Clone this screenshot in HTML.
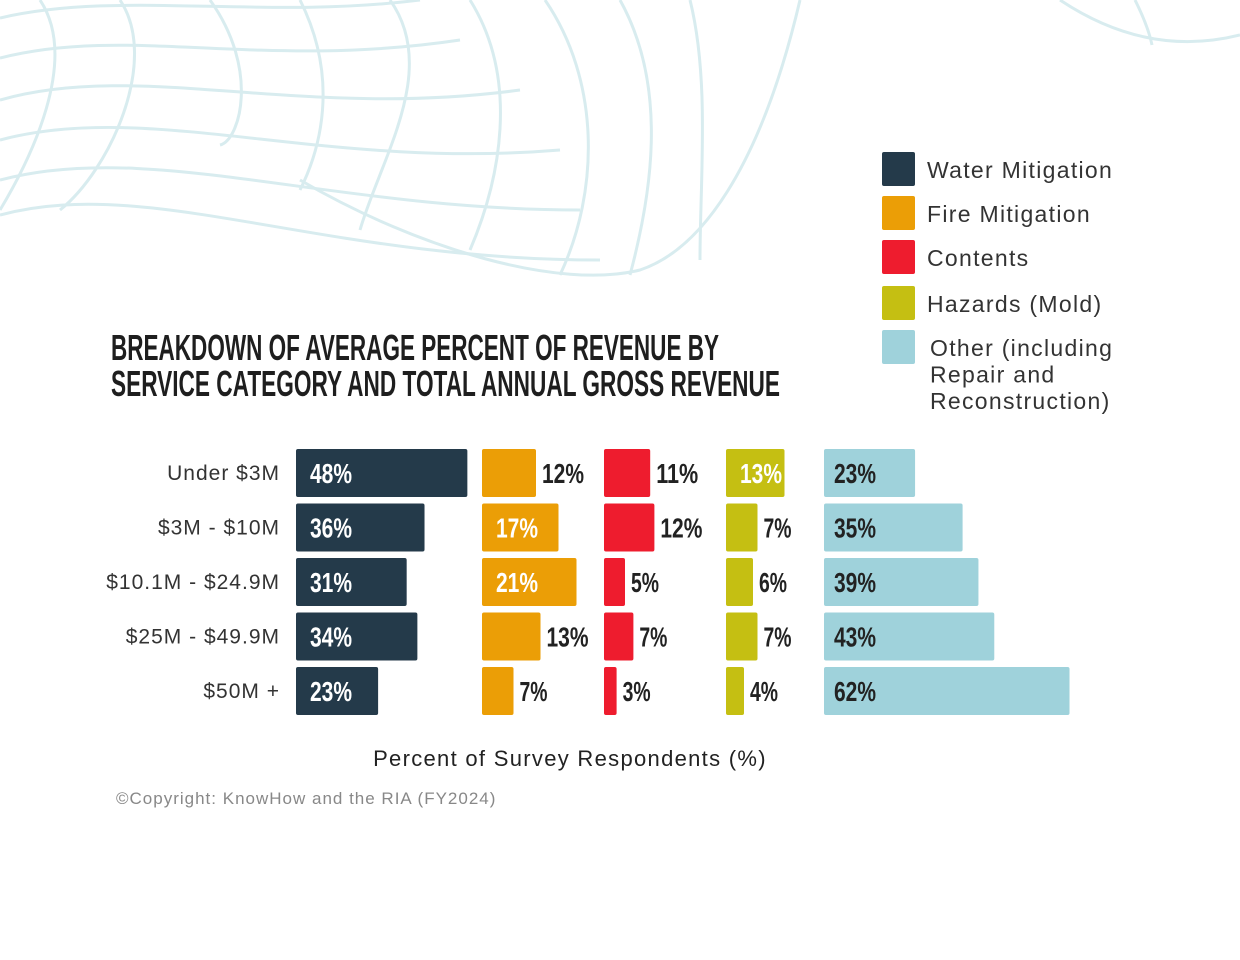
<!DOCTYPE html>
<html><head><meta charset="utf-8"><style>
html,body{margin:0;padding:0;background:#fff;}
svg{display:block;}
</style></head><body>
<svg id="chart" width="1240" height="960" viewBox="0 0 1240 960" xmlns="http://www.w3.org/2000/svg">
<g fill="none" stroke="#d8ecef" stroke-width="3">
<path d="M0 18 C120 -10 260 20 420 0"/>
<path d="M0 58 C130 25 260 70 460 40"/>
<path d="M0 100 C140 60 300 120 520 90"/>
<path d="M0 140 C150 100 320 170 560 150"/>
<path d="M0 180 C150 140 330 210 580 210"/>
<path d="M0 215 C150 175 320 260 600 260"/>
<path d="M300 180 C420 250 560 290 640 270 C700 250 760 170 800 0"/>
<path d="M40 0 C80 60 30 160 0 210"/>
<path d="M120 0 C160 60 110 170 60 210"/>
<path d="M210 0 C260 70 240 140 220 145"/>
<path d="M300 0 C340 80 320 150 300 190"/>
<path d="M390 0 C440 70 380 160 360 230"/>
<path d="M470 0 C520 80 500 180 470 250"/>
<path d="M545 0 C600 80 600 190 560 275"/>
<path d="M620 0 C670 90 650 200 630 275"/>
<path d="M690 0 C710 80 700 180 700 260"/>
<path d="M1060 0 C1120 40 1180 50 1240 35"/>
<path d="M1135 0 C1145 20 1150 35 1152 45"/>
</g>
<g font-family="'Liberation Sans Narrow','Liberation Sans',sans-serif" font-weight="bold" font-size="36" fill="#1e1e1e">
<text x="111" y="360" textLength="608" lengthAdjust="spacingAndGlyphs">BREAKDOWN OF AVERAGE PERCENT OF REVENUE BY</text>
<text x="111" y="396" textLength="669" lengthAdjust="spacingAndGlyphs">SERVICE CATEGORY AND TOTAL ANNUAL GROSS REVENUE</text>
</g>
<g id="legend" font-family="'Liberation Sans',sans-serif" font-size="23" letter-spacing="1.3" fill="#333"></g>
<g id="bars"></g>
<text x="570" y="766" text-anchor="middle" font-family="'Liberation Sans',sans-serif" font-size="22" letter-spacing="1.3" fill="#222">Percent of Survey Respondents (%)</text>
<text x="116" y="804" font-family="'Liberation Sans',sans-serif" font-size="17" letter-spacing="1" fill="#888">©Copyright: KnowHow and the RIA (FY2024)</text>
</svg>
<script>
const categories = ["Under $3M","$3M - $10M","$10.1M - $24.9M","$25M - $49.9M","$50M +"];
const seriesNames = ["Water Mitigation","Fire Mitigation","Contents","Hazards (Mold)","Other (including Repair and Reconstruction)"];
const water = [48,36,31,34,23];
const fire = [12,17,21,13,7];
const contents = [11,12,5,7,3];
const hazards = [13,7,6,7,4];
const other = [23,35,39,43,62];

const NS="http://www.w3.org/2000/svg";
const svg=document.getElementById('bars');
const leg=document.getElementById('legend');
const series=[
 {key:'water',vals:water,x0:296,scale:3.57,color:'#243a4a',inside:0,inColor:'#fff',outColor:'#222'},
 {key:'fire',vals:fire,x0:482,scale:4.5,color:'#eb9e06',inside:15,inColor:'#fff',outColor:'#222'},
 {key:'contents',vals:contents,x0:604,scale:4.2,color:'#ee1c2e',inside:1000,inColor:'#fff',outColor:'#222'},
 {key:'hazards',vals:hazards,x0:726,scale:4.5,color:'#c5bf12',inside:10,inColor:'#fff',outColor:'#222'},
 {key:'other',vals:other,x0:824,scale:3.96,color:'#9fd2db',inside:0,inColor:'#222',outColor:'#222'}
];
function yRow(i){return 449+i*54.5;}
const rowH=48;
categories.forEach((c,i)=>{
 const t=document.createElementNS(NS,'text');
 
 
 t.setAttribute('x',280);t.setAttribute('y',yRow(i)+rowH/2+7);
 t.setAttribute('text-anchor','end');
 t.setAttribute('font-family',"'Liberation Sans',sans-serif");
 t.setAttribute('font-size','21');t.setAttribute('letter-spacing','1');t.setAttribute('fill','#333');
 t.textContent=c;svg.appendChild(t);
});
series.forEach((s)=>{
 s.vals.forEach((v,i)=>{
  const w=v*s.scale,y=yRow(i);
  const r=document.createElementNS(NS,'rect');
  
  
  r.setAttribute('x',s.x0);r.setAttribute('y',y);
  r.setAttribute('width',w);r.setAttribute('height',rowH);
  r.setAttribute('rx',2);r.setAttribute('fill',s.color);
  svg.appendChild(r);
  const inside=v>=s.inside;
  const t=document.createElementNS(NS,'text');
  
  
  t.setAttribute('x',inside?s.x0+(s.key==='other'?10:14):s.x0+w+6);
  t.setAttribute('y',y+rowH/2+10);
  t.setAttribute('font-family',"'Liberation Sans Narrow','Liberation Sans',sans-serif");
  t.setAttribute('font-weight','bold');t.setAttribute('font-size','28');
  t.setAttribute('fill',inside?s.inColor:s.outColor);
  const txt=v+'%';
  t.setAttribute('textLength',txt.length*14);
  t.setAttribute('lengthAdjust','spacingAndGlyphs');
  t.textContent=txt;svg.appendChild(t);
 });
});
const legY=[152,196,240,286,330];
series.forEach((s,i)=>{
 const r=document.createElementNS(NS,'rect');
 
 
 r.setAttribute('x',882);r.setAttribute('y',legY[i]);
 r.setAttribute('width',33);r.setAttribute('height',34);
 r.setAttribute('rx',2);r.setAttribute('fill',s.color);
 leg.appendChild(r);
 if(i<4){
  const t=document.createElementNS(NS,'text');
  
  
  t.setAttribute('x',927);t.setAttribute('y',legY[i]+26);
  t.textContent=seriesNames[i];leg.appendChild(t);
 } else {
  ['Other (including','Repair and','Reconstruction)'].forEach((ln,j)=>{
   const t=document.createElementNS(NS,'text');
   
   
   t.setAttribute('x',930);t.setAttribute('y',356+j*26.5);
   t.textContent=ln;leg.appendChild(t);
  });
 }
});
</script>
</body></html>
